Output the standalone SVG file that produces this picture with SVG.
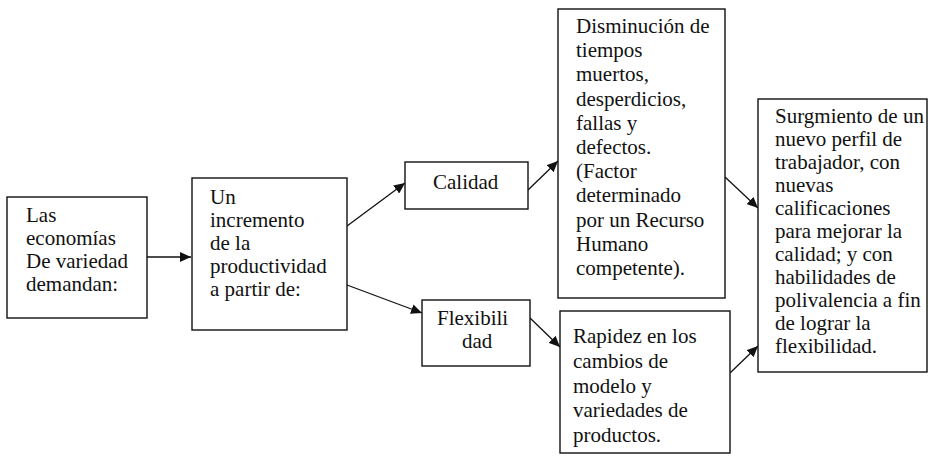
<svg xmlns="http://www.w3.org/2000/svg" width="936" height="465" viewBox="0 0 936 465">
<style>
.box{fill:#fff;stroke:#111;stroke-width:1.4}
.t{font-family:'Liberation Serif','Tinos','Times New Roman','DejaVu Serif',serif;font-size:21px;fill:#111}
.c{fill:none;stroke:#111;stroke-width:1.3}
</style>
<defs>
<marker id="ah" markerUnits="userSpaceOnUse" markerWidth="12" markerHeight="10" refX="11" refY="5" orient="auto">
<path d="M0,0 L11,5 L0,10 z" fill="#111"/>
</marker>
</defs>
<rect width="936" height="465" fill="#fff"/>
<g id="connectors">
<line class="c" x1="147" y1="257" x2="191" y2="257" marker-end="url(#ah)"/>
<line class="c" x1="347" y1="226" x2="405" y2="183" marker-end="url(#ah)"/>
<line class="c" x1="347" y1="285" x2="422" y2="313" marker-end="url(#ah)"/>
<line class="c" x1="528" y1="190" x2="558" y2="161" marker-end="url(#ah)"/>
<line class="c" x1="530" y1="318" x2="560" y2="347" marker-end="url(#ah)"/>
<line class="c" x1="725" y1="177" x2="758" y2="208" marker-end="url(#ah)"/>
<line class="c" x1="730" y1="373" x2="758" y2="346" marker-end="url(#ah)"/>
</g>
<g id="n1">
<rect class="box" x="7" y="197" width="140" height="121"/>
<text class="t" font-family="Liberation Serif, serif"><tspan x="26" y="222">Las</tspan><tspan x="26" y="245">economías</tspan><tspan x="26" y="268">De variedad</tspan><tspan x="26" y="291">demandan:</tspan></text>
</g>
<g id="n2">
<rect class="box" x="192" y="178" width="155" height="152"/>
<text class="t" font-family="Liberation Serif, serif"><tspan x="210" y="204">Un</tspan><tspan x="210" y="227">incremento</tspan><tspan x="210" y="250">de la</tspan><tspan x="210" y="273">productividad</tspan><tspan x="210" y="296">a partir de:</tspan></text>
</g>
<g id="n3">
<rect class="box" x="405" y="162" width="123" height="47"/>
<text class="t" font-family="Liberation Serif, serif"><tspan x="433" y="189">Calidad</tspan></text>
</g>
<g id="n4">
<rect class="box" x="422" y="300" width="108" height="66"/>
<text class="t" font-family="Liberation Serif, serif"><tspan x="437" y="325">Flexibili</tspan><tspan x="462" y="348">dad</tspan></text>
</g>
<g id="n5">
<rect class="box" x="558" y="9" width="167" height="289"/>
<text class="t" font-family="Liberation Serif, serif"><tspan x="576" y="33">Disminución de</tspan><tspan x="576" y="57">tiempos</tspan><tspan x="576" y="81">muertos,</tspan><tspan x="576" y="106">desperdicios,</tspan><tspan x="576" y="130">fallas y</tspan><tspan x="576" y="154">defectos.</tspan><tspan x="576" y="178">(Factor</tspan><tspan x="576" y="202">determinado</tspan><tspan x="576" y="227">por un Recurso</tspan><tspan x="576" y="251">Humano</tspan><tspan x="576" y="275">competente).</tspan></text>
</g>
<g id="n6">
<rect class="box" x="560" y="311" width="170" height="142"/>
<text class="t" font-family="Liberation Serif, serif"><tspan x="573" y="343">Rapidez en los</tspan><tspan x="573" y="368">cambios de</tspan><tspan x="573" y="393">modelo y</tspan><tspan x="573" y="417">variedades de</tspan><tspan x="573" y="442">productos.</tspan></text>
</g>
<g id="n7">
<rect class="box" x="758" y="99" width="169" height="273"/>
<text class="t" font-family="Liberation Serif, serif"><tspan x="775" y="123">Surgmiento de un</tspan><tspan x="775" y="146">nuevo perfil de</tspan><tspan x="775" y="169">trabajador, con</tspan><tspan x="775" y="192">nuevas</tspan><tspan x="775" y="215">calificaciones</tspan><tspan x="775" y="238">para mejorar la</tspan><tspan x="775" y="261">calidad; y con</tspan><tspan x="775" y="284">habilidades de</tspan><tspan x="775" y="307">polivalencia a fin</tspan><tspan x="775" y="330">de lograr la</tspan><tspan x="775" y="353">flexibilidad.</tspan></text>
</g>
</svg>
